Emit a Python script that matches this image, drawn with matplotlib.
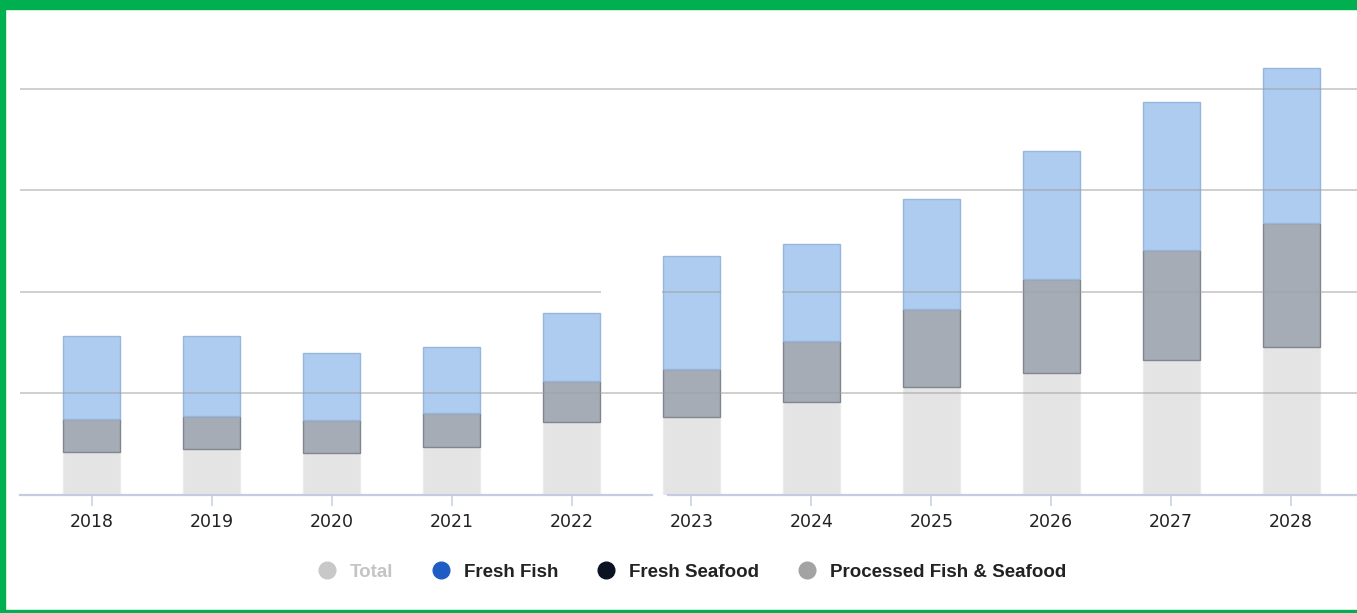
import numpy as np
import matplotlib.pyplot as plt
from matplotlib.lines import Line2D
from matplotlib.patches import Rectangle

years = ['2018', '2019', '2020', '2021', '2022', '2023',
         '2024', '2025', '2026', '2027', '2028']
total_part = [4.2, 4.5, 4.1, 4.7, 7.2, 7.7, 9.2, 10.6, 12.0, 13.3, 14.6]
processed = [3.3, 3.3, 3.3, 3.4, 4.0, 4.7, 6.0, 7.7, 9.3, 10.8, 12.2]
fresh_fish = [8.2, 7.9, 6.6, 6.5, 6.7, 11.1, 9.5, 10.8, 12.6, 14.6, 15.2]
grid_values = [10, 20, 30, 40]

legend_names = ['Total', 'Fresh Fish', 'Fresh Seafood', 'Processed Fish & Seafood']
legend_colors = ['#c8c8c8', '#1f5cc4', '#0b1222', '#a3a3a3']
legend_text_colors = ['#c4c4c4', '#222222', '#222222', '#222222']

W, H = 1357, 613
fig = plt.figure(figsize=(W / 100, H / 100), dpi=100)
ax = fig.add_axes([20 / W, (H - 495) / H, 1337 / W, 455 / H])

x = np.arange(len(years))
w = 0.475
b1 = np.array(total_part)
b2 = b1 + np.array(processed)

ax.bar(x, total_part, w, color='#e4e4e4', edgecolor='#ececec', linewidth=1, zorder=2)
ax.bar(x, processed, w, bottom=b1, color='#a6acb5', edgecolor='#7f868f', linewidth=1, zorder=2)
ax.bar(x, fresh_fish, w, bottom=b2, color='#aecbf0', edgecolor='#98b6dc', linewidth=1, zorder=2)

x0, x1 = -0.6, 10.55
ax.set_xlim(x0, x1)
ax.set_ylim(0, 44.8)

# grid lines (the 20 line has a gap in the original around 2022-2024)
for g in grid_values:
    if g == 20:
        segs = [(x0, 4.24), (4.7625, 5.2375), (5.7625, x1)]
    else:
        segs = [(x0, x1)]
    for a, b in segs:
        ax.plot([a, b], [g, g], color='#a0a0a0', alpha=0.5, lw=1.4, zorder=3)

# baseline, split in two pieces like the reference
for a, b in [(x0, 4.67), (4.80, x1)]:
    ax.plot([a, b], [0, 0], color='#c3cde0', lw=1.6, zorder=3, clip_on=False)

for s in ax.spines.values():
    s.set_visible(False)
ax.set_yticks([])
ax.set_xticks(x)
ax.set_xticklabels(years, fontsize=12.5, color='#222222')
ax.tick_params(axis='x', length=8, width=1.2, color='#c8d2e6', pad=5)

handles = [Line2D([], [], marker='o', ls='none', markersize=12,
                  markerfacecolor=c, markeredgecolor=c) for c in legend_colors]
leg = fig.legend(handles, legend_names, loc='center', bbox_to_anchor=(692 / W, 1 - 572 / H),
                 ncol=4, frameon=False, handlelength=1.0, handletextpad=0.72,
                 columnspacing=2.05,
                 prop={'family': 'Liberation Sans', 'weight': 'bold', 'size': 13.5})
for t, c in zip(leg.get_texts(), legend_text_colors):
    t.set_color(c)

# green frame
green = '#00b050'
fig.add_artist(Rectangle((0, 1 - 9 / H), 1, 9 / H, transform=fig.transFigure, color=green))
fig.add_artist(Rectangle((0, 0), 5 / W, 1, transform=fig.transFigure, color=green))
fig.add_artist(Rectangle((0, 0), 1, 3 / H, transform=fig.transFigure, color=green))

fig.savefig('out.png', dpi=100)
